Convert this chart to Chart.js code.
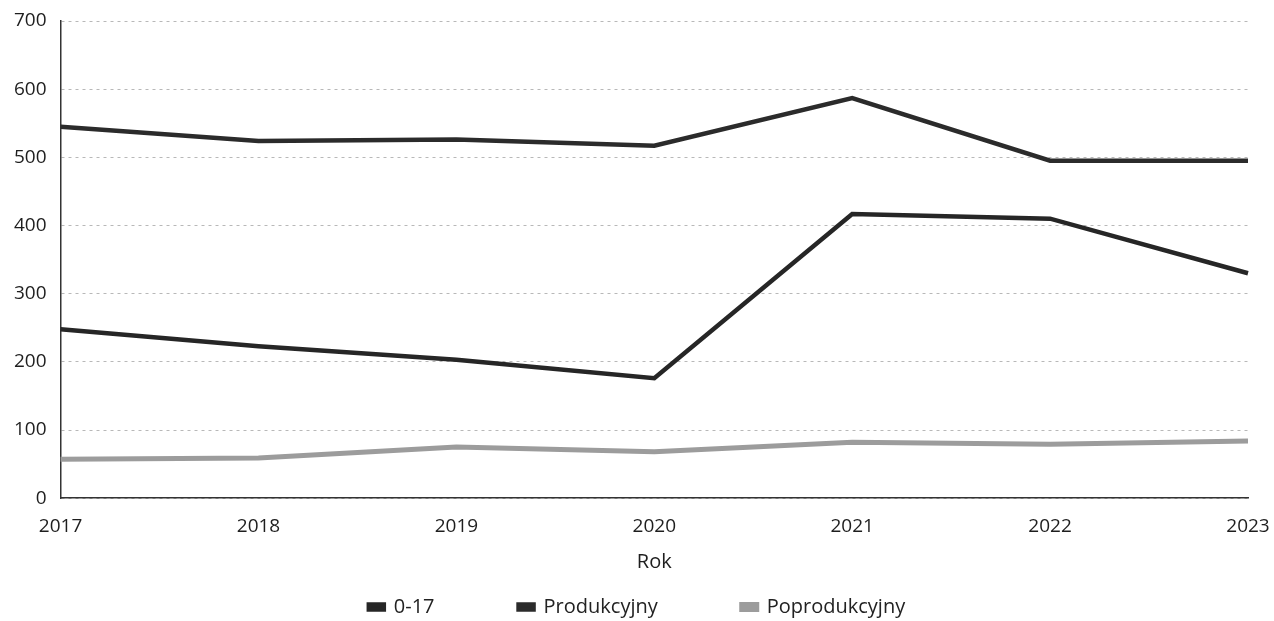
<!DOCTYPE html>
<html>
<head>
<meta charset="utf-8">
<script src="https://cdn.jsdelivr.net/npm/chart.js@4/dist/chart.umd.min.js"></script>
<style>
html,body{margin:0;padding:0;background:#fff;}
#wrap{width:1274px;height:621px;position:relative;}
</style>
</head>
<body>
<div id="wrap"><canvas id="c" width="1274" height="621"></canvas></div>
<script>
const years = ['2017','2018','2019','2020','2021','2022','2023'];
const group017 = [248, 223, 203, 176, 417, 410, 330];
const produkcyjny = [545, 524, 526, 517, 587, 495, 495];
const poprodukcyjny = [57, 59, 75, 68, 82, 79, 84];
const seriesNames = ['0-17', 'Produkcyjny', 'Poprodukcyjny'];
const yTicks = [0, 100, 200, 300, 400, 500, 600, 700];

// Reserve only a small band for the legend in the layout while keeping wide item spacing
const LEGEND_RESERVE = 53;
const legendReserve = {
  id: 'legendReserve',
  beforeLayout(chart) {
    const lg = chart.legend;
    if (lg && !lg.__patched) {
      const origFit = lg.fit;
      lg.fit = function () {
        origFit.call(this);
        this.__fullHeight = this.height;
        this.height = LEGEND_RESERVE;
      };
      lg.__patched = true;
    }
  },
  afterLayout(chart) {
    const lg = chart.legend;
    if (lg && lg.__fullHeight) { lg.top = lg.bottom - lg.__fullHeight; }
  }
};

const tickFont = {family: '"Open Sans", sans-serif', size: 19};
const titleFont = {family: '"Open Sans", sans-serif', size: 20};
new Chart(document.getElementById('c'), {
  type: 'line',
  data: {
    labels: years,
    datasets: [
      {label: seriesNames[0], data: group017, borderColor: '#262626', backgroundColor: '#262626', borderWidth: 4.5, pointRadius: 0, tension: 0},
      {label: seriesNames[1], data: produkcyjny, borderColor: '#2b2b2b', backgroundColor: '#2b2b2b', borderWidth: 4.5, pointRadius: 0, tension: 0},
      {label: seriesNames[2], data: poprodukcyjny, borderColor: '#9c9c9c', backgroundColor: '#a5a5a5', borderWidth: 5, pointRadius: 0, tension: 0}
    ]
  },
  plugins: [legendReserve],
  options: {
    responsive: false,
    animation: false,
    layout: {padding: {left: 0, right: 0, top: 21, bottom: -6}},
    plugins: {
      legend: {
        position: 'bottom',
        labels: {font: {family: '"Open Sans", sans-serif', size: 20}, color: '#222', boxWidth: 15, boxHeight: 5, padding: 84}
      },
      tooltip: {enabled: false}
    },
    scales: {
      x: {
        offset: false,
        afterFit: (s) => { s.paddingRight = 26; },
        grid: {display: false, drawTicks: false},
        border: {display: true, color: '#333', width: 1.5},
        ticks: {font: tickFont, color: '#1e1e1e', padding: 17, maxRotation: 0},
        title: {display: true, text: 'Rok', font: titleFont, color: '#1e1e1e', padding: {top: -5, bottom: 0}}
      },
      y: {
        min: 0, max: 700,
        afterBuildTicks: (s) => { s.ticks = yTicks.map(v => ({value: v})); },
        afterFit: (s) => { s.paddingTop = 11; },
        grid: {color: '#b8b8b8', lineWidth: 1, drawTicks: false},
        border: {display: true, color: '#333', width: 1.5, dash: [3, 4]},
        ticks: {font: tickFont, color: '#1e1e1e', padding: 14}
      }
    }
  }
});
</script>
</body>
</html>
